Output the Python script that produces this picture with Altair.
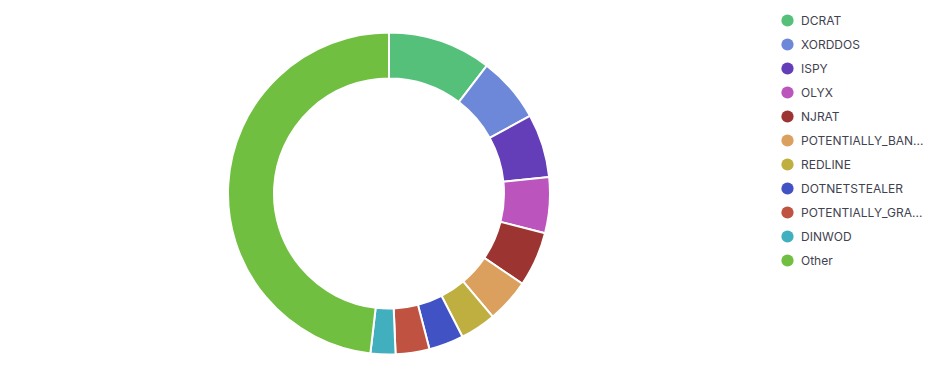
import altair as alt
import pandas as pd

categories = ["DCRAT", "XORDDOS", "ISPY", "OLYX", "NJRAT", "POTENTIALLY_BAN...",
              "REDLINE", "DOTNETSTEALER", "POTENTIALLY_GRA...", "DINWOD", "Other"]
values = [104, 66, 64, 56, 55, 44, 36, 35, 34, 25, 482]
colors = ["#54C07A", "#6E88D9", "#643DB8", "#BB55BD", "#9C3431", "#DBA05E",
          "#BFAF40", "#4052C4", "#BF5240", "#42AFBF", "#70BF40"]

df = pd.DataFrame({"name": categories, "count": values, "idx": list(range(len(categories)))})

chart = alt.Chart(df).mark_arc(
    outerRadius=161, innerRadius=115, stroke="white", strokeWidth=2
).encode(
    theta=alt.Theta("count:Q", stack=True),
    order=alt.Order("idx:Q"),
    x=alt.value(381),
    y=alt.value(185.5),
    color=alt.Color(
        "name:N",
        scale=alt.Scale(domain=categories, range=colors),
        legend=alt.Legend(
            title=None, orient="none", legendX=773, legendY=6,
            symbolType="circle", symbolSize=150, symbolStrokeWidth=0,
            labelFont="Inter", labelFontSize=12, labelColor="#3F4250",
            labelOffset=7, rowPadding=11, labelLimit=200,
        ),
    ),
).properties(
    width=916, height=372, padding=0, autosize=alt.AutoSizeParams(type="none")
).configure_view(stroke=None)

chart.save("out.html", embed_options={"renderer": "svg", "actions": False})
